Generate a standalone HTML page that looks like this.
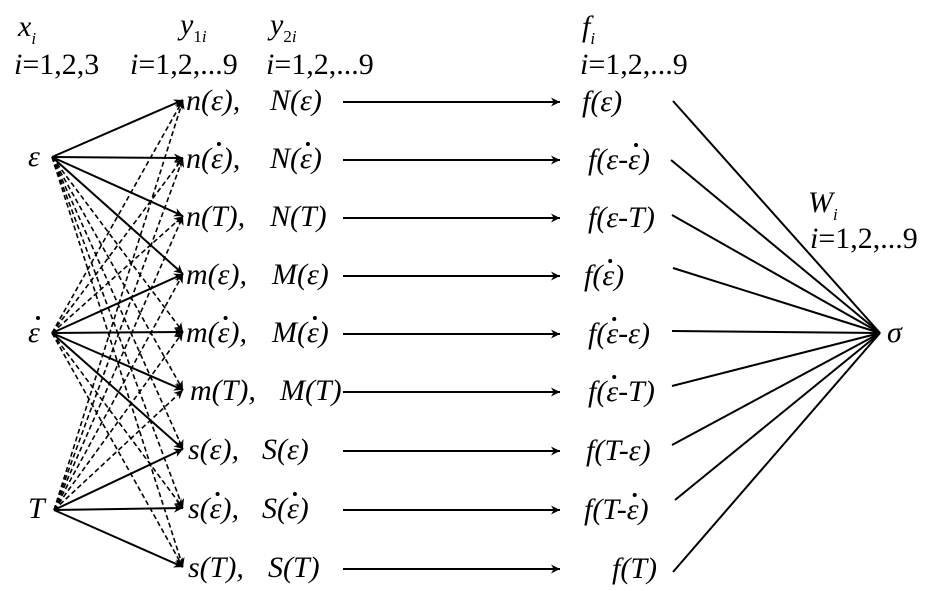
<!DOCTYPE html>
<html><head><meta charset="utf-8"><style>
html,body{margin:0;padding:0;background:#fff;}
svg{display:block;}
svg text{font-family:"Liberation Serif","Times New Roman","DejaVu Serif",serif !important;font-size:30px;fill:#000;}
.i{font-style:italic;}
</style></head><body>
<svg width="925" height="591" viewBox="0 0 925 591" xmlns="http://www.w3.org/2000/svg">
<defs>
<marker id="a" viewBox="0 0 10 10" refX="10" refY="5" markerWidth="12" markerHeight="9" markerUnits="userSpaceOnUse" orient="auto"><path d="M0,0 L10,5 L0,10 L3,5 z" fill="#000"/></marker>
</defs>
<g stroke="#000" stroke-width="2" fill="none" id="lines"></g>
<g style="font-family:'Liberation Serif','Times New Roman',serif">
<text x="18" y="36" class="i">x<tspan font-size="17" dy="8">i</tspan></text>
<text x="14" y="74"><tspan class="i">i</tspan>=1,2,3</text>
<text x="180" y="34" class="i">y<tspan font-size="17" dy="8" font-style="normal">1</tspan><tspan font-size="17">i</tspan></text>
<text x="130" y="74"><tspan class="i">i</tspan>=1,2,...9</text>
<text x="270" y="34" class="i">y<tspan font-size="17" dy="8" font-style="normal">2</tspan><tspan font-size="17">i</tspan></text>
<text x="266" y="74"><tspan class="i">i</tspan>=1,2,...9</text>
<text x="582" y="36" class="i">f<tspan font-size="17" dy="8">i</tspan></text>
<text x="580" y="74"><tspan class="i">i</tspan>=1,2,...9</text>
<text x="808" y="212" class="i">W<tspan font-size="17" dy="8">i</tspan></text>
<text x="810" y="248"><tspan class="i">i</tspan>=1,2,...9</text>
<text x="28" y="166" class="i">ε</text>
<text x="28" y="342" class="i">ε</text>
<text x="28" y="518" class="i">T</text>
<text x="887" y="342" class="i">σ</text>
<g id="labels"></g>
</g>
<circle cx="38" cy="318" r="2" fill="#000"/>
</svg>
<script>
var ns="http://www.w3.org/2000/svg";
var g=document.getElementById('lines'),L=document.getElementById('labels');
var rows=[100,158,216,274,332,390,449,508,567];
function ln(x1,y1,x2,y2,dash,arr){var l=document.createElementNS(ns,'line');l.setAttribute('x1',x1);l.setAttribute('y1',y1);l.setAttribute('x2',x2);l.setAttribute('y2',y2);if(dash){l.setAttribute('stroke-dasharray','5,3');l.setAttribute('stroke-width','1.6');}if(arr)l.setAttribute('marker-end','url(#a)');g.appendChild(l);}
var xs=[[52,157,[0,1,2,3]],[52,333,[3,4,5,6]],[54,510,[6,7,8]]];
xs.forEach(function(x){rows.forEach(function(r,i){var s=x[2].indexOf(i)>=0;ln(x[0],x[1],183,r,!s,true);});});
rows.forEach(function(r){ln(343,r+2,560,r+2,false,true);});
var st=[[673,101],[671,160],[672,215],[673,268],[672,331],[672,386],[672,445],[675,500],[673,572]];
st.forEach(function(p){ln(p[0],p[1],880,333,false,false);});
var y1=['n(ε),','n(~),','n(T),','m(ε),','m(~),','m(T),','s(ε),','s(~),','s(T),'];
var y2=['N(ε)','N(~)','N(T)','M(ε)','M(~)','M(T)','S(ε)','S(~)','S(T)'];
var f=['f(ε)','f(ε-~)','f(ε-T)','f(~)','f(~-ε)','f(~-T)','f(T-ε)','f(T-~)','f(T)'];
var fx=[582,588,588,584,588,588,586,584,612];
var y1x=[186,186,186,186,186,190,188,188,188],y2x=[270,270,270,272,272,280,262,262,268];
function tx(x,y,s){var t=document.createElementNS(ns,'text');t.setAttribute('x',x);t.setAttribute('y',y);t.setAttribute('class','i');var idx=[];for(var k=0;k<s.length;k++)if(s[k]=='~')idx.push(k);t.textContent=s.replace(/~/g,'ε');L.appendChild(t);
idx.forEach(function(k){try{var e=t.getExtentOfChar(k);var c=document.createElementNS(ns,'circle');c.setAttribute('cx',e.x+e.width/2+2);c.setAttribute('cy',y-24);c.setAttribute('r',2);c.setAttribute('fill','#000');L.appendChild(c);}catch(err){}});}
rows.forEach(function(r,i){tx(y1x[i],r+10,y1[i]);tx(y2x[i],r+10,y2[i]);tx(fx[i],r+11,f[i]);});
</script>
</body></html>
